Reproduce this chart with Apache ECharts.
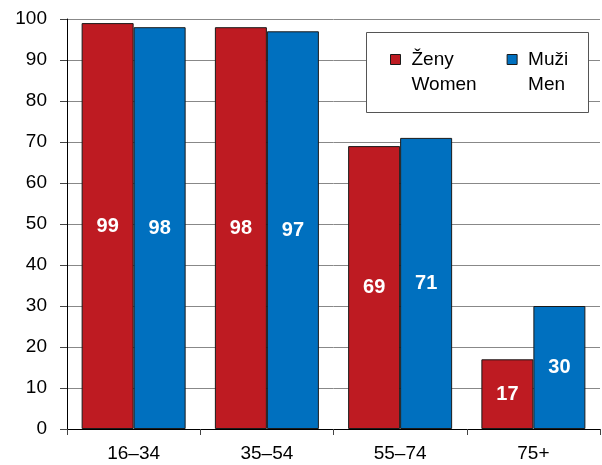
<!DOCTYPE html>
<html lang="cs">
<head>
<meta charset="UTF-8">
<title>Ženy / Muži</title>
<script src="https://cdn.jsdelivr.net/npm/echarts@6/dist/echarts.min.js"></script>
<style>
  html, body { margin: 0; padding: 0; background: #fff; }
  #chart { width: 602px; height: 465px; }
</style>
</head>
<body>
<div id="chart"></div>
<script>
// data
var categories = ['16–34', '35–54', '55–74', '75+'];
var women = [99, 98, 69, 17];
var men = [98, 97, 71, 30];
var yTicks = [0, 100, 10]; // min, max, step

var font = "'Liberation Sans', Arial, sans-serif";
var chart = echarts.init(document.getElementById('chart'));

var labelStyle = {
    show: true,
    position: 'inside',
    color: '#fff',
    fontWeight: 'bold',
    fontSize: 20,
    fontFamily: font
};

var option = {
    animation: false,
    grid: { left: 67, right: 2, top: 19, bottom: 36 },
    xAxis: {
        type: 'category',
        data: categories,
        axisLine: { lineStyle: { color: '#000', width: 1 } },
        axisTick: { show: true, length: 6, lineStyle: { color: '#444' } },
        axisLabel: { color: '#000', fontSize: 19, fontFamily: font, margin: 15 }
    },
    yAxis: {
        type: 'value',
        min: yTicks[0],
        max: yTicks[1],
        interval: yTicks[2],
        axisLine: { show: true, lineStyle: { color: '#000', width: 1 } },
        axisTick: { show: true, length: 7, lineStyle: { color: '#444' } },
        axisLabel: { color: '#000', fontSize: 19, fontFamily: font, margin: 20 },
        splitLine: { lineStyle: { color: '#888', width: 1 } }
    },
    legend: {
        left: 390,
        top: 22,
        padding: 0,
        icon: 'rect',
        itemWidth: 10,
        itemHeight: 10,
        itemGap: 30,
        z: 10,
        data: ['Ženy\nWomen', 'Muži\nMen'],
        formatter: function (name) { return ' \n' + name; },
        itemStyle: { borderColor: '#1a1a1a', borderWidth: 1 },
        textStyle: { fontSize: 19, fontFamily: font, color: '#000', lineHeight: 25, padding: [0, 0, 0, 6] }
    },
    graphic: [{
        type: 'rect',
        z: 5,
        shape: { x: 366.5, y: 32.5, width: 222, height: 80 },
        style: { fill: '#fff', stroke: '#555', lineWidth: 1 }
    }],
    series: [{
        name: 'Ženy\nWomen',
        type: 'bar',
        data: women,
        barWidth: 52,
        barGap: '0%',
        itemStyle: { color: '#BE1B22', borderColor: '#1a1a1a', borderWidth: 1 },
        label: labelStyle
    }, {
        name: 'Muži\nMen',
        type: 'bar',
        data: men,
        barWidth: 52,
        itemStyle: { color: '#0070BF', borderColor: '#1a1a1a', borderWidth: 1 },
        label: labelStyle
    }]
};

chart.setOption(option);
</script>
</body>
</html>
